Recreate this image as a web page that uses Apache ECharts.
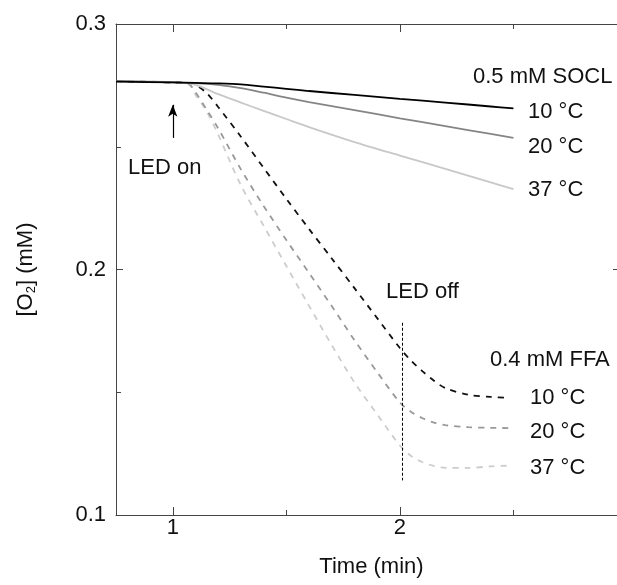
<!DOCTYPE html>
<html>
<head>
<meta charset="utf-8">
<script src="https://cdn.jsdelivr.net/npm/echarts@6/dist/echarts.min.js"></script>
<style>
  html, body { margin: 0; padding: 0; background: #fff; }
  #chart { width: 617px; height: 585px; }
</style>
</head>
<body>
<div id="chart"></div>
<script>
  // time axis (min) for the SOCL traces
  var soclTime = [0.75, 1.0, 1.1, 1.2, 1.3, 1.4, 1.5, 1.6, 1.8, 2.0, 2.2, 2.4, 2.5];
  var socl10 = [0.2765, 0.2762, 0.2760, 0.2758, 0.2754, 0.2745, 0.2736, 0.2727, 0.2711, 0.2695, 0.2680, 0.2664, 0.2656];
  var socl20 = [0.2768, 0.2762, 0.2759, 0.2752, 0.2739, 0.2720, 0.2700, 0.2682, 0.2649, 0.2616, 0.2584, 0.2552, 0.2536];
  var socl37 = [0.2768, 0.2763, 0.2752, 0.2714, 0.2680, 0.2646, 0.2613, 0.2580, 0.2519, 0.2464, 0.2410, 0.2355, 0.2327];

  // time axis for the FFA traces
  var ffaTime = [0.75, 1.0, 1.07, 1.1, 1.15, 1.2, 1.3, 1.4, 1.5, 1.6, 1.7, 1.8, 1.9, 2.0, 2.05, 2.1, 2.15, 2.2, 2.3, 2.4, 2.48];
  var ffa10 = [0.2767, 0.2762, 0.2760, 0.2752, 0.2718, 0.2662, 0.2541, 0.2414, 0.2288, 0.2165, 0.2045, 0.1924, 0.1802, 0.1680, 0.1628, 0.1585, 0.1547, 0.1517, 0.1490, 0.1481, 0.1477];
  var ffa20 = [0.2768, 0.2762, 0.2755, 0.2722, 0.2650, 0.2575, 0.2408, 0.2259, 0.2120, 0.1986, 0.1851, 0.1712, 0.1582, 0.1458, 0.1420, 0.1394, 0.1376, 0.1366, 0.1358, 0.1355, 0.1354];
  var ffa37 = [0.2768, 0.2762, 0.2757, 0.2712, 0.2643, 0.2549, 0.2343, 0.2178, 0.2014, 0.1852, 0.1692, 0.1540, 0.1410, 0.1283, 0.1240, 0.1215, 0.1200, 0.1192, 0.1192, 0.1198, 0.1201];

  var xMajor = [1, 2];
  var xMinor = [1.5, 2.5];
  var yMajor = [0.1, 0.2, 0.3];
  var yMinor = [0.15, 0.25];

  // annotations (data coords)
  var ledOnArrow = [[1, 0.2536], [1, 0.2671]];
  var ledOffLine = [[2.01, 0.1783], [2.01, 0.1141]];

  var FONT = '"Liberation Sans", Arial, sans-serif';

  function pairs(xs, ys) {
    return xs.map(function (x, i) { return [x, ys[i]]; });
  }

  function mkLine(name, xs, ys, color, dashed) {
    return {
      name: name,
      type: 'line',
      data: pairs(xs, ys),
      symbol: 'none',
      smooth: 0.3,
      lineStyle: { color: color, width: 1.8, type: dashed ? [6, 6] : 'solid' },
      z: dashed ? 3 : 4
    };
  }

  // one axis: frame line optional, ticks at given values, no labels by default
  function mkAxis(min, max, pos, ticks, len, showLine) {
    return {
      type: 'value', min: min, max: max, position: pos,
      axisLine: { show: showLine, onZero: false, lineStyle: { color: '#444', width: 1 } },
      axisTick: { show: true, inside: true, length: len, customValues: ticks, lineStyle: { color: '#444', width: 1 } },
      axisLabel: { show: false },
      splitLine: { show: false }
    };
  }

  var myChart = echarts.init(document.getElementById('chart'));

  var axisText = { fontSize: 22, color: '#111', fontFamily: FONT };

  var xBottom = mkAxis(0.75, 3, 'bottom', xMajor, 8, true);
  xBottom.name = 'Time (min)';
  xBottom.nameLocation = 'middle';
  xBottom.nameGap = 41;
  xBottom.nameTextStyle = axisText;
  xBottom.axisLabel = { show: true, customValues: xMajor, margin: 2, fontSize: 22, color: '#111', fontFamily: FONT };

  var yLeft = mkAxis(0.1, 0.3, 'left', yMajor, 7, true);
  yLeft.name = '[O{sub|2}] (mM)';
  yLeft.nameLocation = 'middle';
  yLeft.nameGap = 78;
  yLeft.nameTextStyle = {
    fontSize: 22, color: '#111', fontFamily: FONT,
    rich: { sub: { fontSize: 13, color: '#111', fontFamily: FONT, padding: [12, 0, 0, 0] } }
  };
  yLeft.axisLabel = { show: true, customValues: yMajor, margin: 10, fontSize: 22, color: '#111', fontFamily: FONT };

  var series = [
    mkLine('FFA 37', ffaTime, ffa37, '#cdcdcd', true),
    mkLine('FFA 20', ffaTime, ffa20, '#999999', true),
    mkLine('FFA 10', ffaTime, ffa10, '#111111', true),
    mkLine('SOCL 37', soclTime, socl37, '#c8c8c8', false),
    mkLine('SOCL 20', soclTime, socl20, '#858585', false),
    mkLine('SOCL 10', soclTime, socl10, '#000000', false)
  ];

  // LED on arrow + LED off marker hang off the last series
  series[5].markLine = {
    silent: true,
    animation: false,
    label: { show: false },
    data: [
      [
        { coord: ledOnArrow[0], symbol: 'none', lineStyle: { color: '#000', width: 1.2, type: 'solid' } },
        { coord: ledOnArrow[1], symbol: 'arrow', symbolSize: [7, 12] }
      ],
      [
        { coord: ledOffLine[0], symbol: 'none', lineStyle: { color: '#000', width: 1, type: [3, 2] } },
        { coord: ledOffLine[1], symbol: 'none' }
      ]
    ]
  };

  function txt(x, y, s) {
    return {
      type: 'text', x: x, y: y, silent: true,
      style: { text: s, fontSize: 22, fontFamily: FONT, fill: '#111', verticalAlign: 'middle', align: 'left' }
    };
  }

  myChart.setOption({
    animation: false,
    grid: { left: 116, top: 24, width: 511, height: 491, outerBoundsMode: 'none', containLabel: false },
    xAxis: [
      xBottom,
      mkAxis(0.75, 3, 'top', xMajor, 8, true),
      mkAxis(0.75, 3, 'bottom', xMinor, 5, false),
      mkAxis(0.75, 3, 'top', xMinor, 5, false)
    ],
    yAxis: [
      yLeft,
      mkAxis(0.1, 0.3, 'right', yMajor, 14, true),
      mkAxis(0.1, 0.3, 'left', yMinor, 5, false)
    ],
    series: series,
    graphic: [
      txt(128, 168, 'LED on'),
      txt(473, 77, '0.5 mM SOCL'),
      txt(528, 112, '10 °C'),
      txt(528, 147, '20 °C'),
      txt(528, 190, '37 °C'),
      txt(386, 292, 'LED off'),
      txt(490, 360, '0.4 mM FFA'),
      txt(530, 398, '10 °C'),
      txt(530, 432, '20 °C'),
      txt(530, 468, '37 °C')
    ]
  });
</script>
</body>
</html>
